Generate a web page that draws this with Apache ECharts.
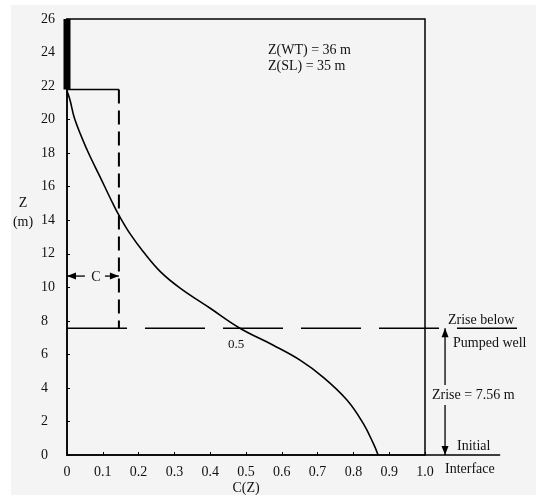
<!DOCTYPE html>
<html>
<head>
<meta charset="utf-8">
<script src="https://cdn.jsdelivr.net/npm/echarts@6/dist/echarts.min.js"></script>
<style>
  html, body { margin: 0; padding: 0; background: #fff; }
  #chart { width: 536px; height: 495px; }
</style>
</head>
<body>
<div id="chart"></div>
<script>
// concentration profile C(Z)
const cValues = [0, 0.008, 0.022, 0.056, 0.092, 0.128, 0.145, 0.176, 0.212, 0.26, 0.316, 0.40, 0.483, 0.575, 0.651, 0.715, 0.782, 0.827, 0.855, 0.869];
const zValues = [21.7, 21.2, 20.0, 18.2, 16.6, 15.0, 14.3, 13.2, 12.15, 10.95, 9.95, 8.75, 7.56, 6.56, 5.66, 4.65, 3.28, 1.9, 0.72, 0];

const zRise = 7.56;       // rise of the interface below the pumped well
const zTop = 21.8;        // top of the profile
const cAvg = 0.145;       // average concentration C (dashed box)
const cArrowZ = 10.67;    // height of the "C" dimension arrow
const cRiseArrow = 1.056; // where the Zrise arrow stands, right of the frame
const cDashEnd = 1.265;   // end of the dashed Zrise line
const cAxisEnd = 1.21;    // end of the extended bottom axis

const font = "Liberation Serif";

const chart = echarts.init(document.getElementById("chart"));

const seg = (pts, style, extra) => Object.assign({
  type: "line",
  data: pts,
  symbol: "none",
  silent: true,
  lineStyle: Object.assign({ color: "#000", width: 1.5 }, style),
}, extra || {});

const txt = (x, y, text, extra) => ({
  type: "text", x, y,
  style: Object.assign({ text, font: "14px " + font, fill: "#111", verticalAlign: "middle" }, extra || {}),
});

const option = {
  backgroundColor: "#fff",
  animation: false,
  grid: {
    left: 67, top: 19, width: 358, height: 436,
    outerBoundsMode: "none",
    show: true, borderColor: "#000", borderWidth: 1.5, backgroundColor: "transparent",
  },
  xAxis: {
    type: "value",
    min: 0, max: 1, interval: 0.1,
    name: "C(Z)",
    nameLocation: "middle",
    nameGap: 26,
    nameMoveOverlap: false,
    nameTextStyle: { fontFamily: font, fontSize: 14, color: "#111" },
    axisLine: { show: true, lineStyle: { color: "#000", width: 1.5 } },
    axisTick: { show: true, inside: true, length: 3, lineStyle: { color: "#000" } },
    splitLine: { show: false },
    axisLabel: {
      fontFamily: font, fontSize: 14, color: "#111", margin: 10,
      formatter: (v) => (v === 0 ? "0" : v.toFixed(1)),
    },
  },
  yAxis: {
    type: "value",
    min: 0, max: 26, interval: 2,
    axisLine: { show: true, lineStyle: { color: "#000", width: 1.5 } },
    axisTick: { show: true, inside: true, length: 3, lineStyle: { color: "#000" } },
    splitLine: { show: false },
    axisLabel: { fontFamily: font, fontSize: 14, color: "#111", align: "left", margin: 26 },
  },
  graphic: [
    { type: "rect", z: -10, shape: { x: 11, y: 5, width: 525, height: 490 }, style: { fill: "#f4f4f4" } },
    txt(23, 203, "Z", { align: "center" }),
    txt(23, 222, "(m)", { align: "center" }),
    txt(268, 50, "Z(WT) = 36 m"),
    txt(268, 66, "Z(SL) = 35 m"),
    txt(236, 345, "0.5", { align: "center", font: "13px " + font }),
    txt(96, 277, "C", { align: "center" }),
    txt(448, 320, "Zrise below"),
    txt(453, 343, "Pumped well"),
    txt(457, 446, "Initial"),
    txt(445, 469, "Interface"),
  ],
  series: [
    seg(cValues.map((c, i) => [c, zValues[i]]), { width: 1.6 }, { smooth: 0.4 }),
    // thick bar along the axis above the profile
    seg([[0, zTop], [0, 26]], { width: 7 }),
    // average concentration box
    seg([[0, zTop], [cAvg, zTop]], { width: 1.5 }),
    seg([[cAvg, zTop], [cAvg, zRise]], { width: 2, type: [14, 7] }),
  ],
};

chart.setOption(option);

// pieces that reach past the right edge of the frame, placed through the axes
const px = (c, z) => chart.convertToPixel({ gridIndex: 0 }, [c, z]);

const head = (tip, dx, dy) => {
  // small filled arrow head pointing along (dx, dy)
  const L = 9, W = 3.5;
  const bx = tip[0] - dx * L, by = tip[1] - dy * L;
  return {
    type: "polygon", z: 50,
    shape: { points: [tip, [bx - dy * W, by + dx * W], [bx + dy * W, by - dx * W]] },
    style: { fill: "#000" },
  };
};

const line = (a, b, style) => ({
  type: "line", z: 40,
  shape: { x1: a[0], y1: a[1], x2: b[0], y2: b[1] },
  style: Object.assign({ stroke: "#000", lineWidth: 1.5 }, style),
});

const riseTop = px(cRiseArrow, zRise);
const riseBot = px(cRiseArrow, 0);
const cLeft = px(0, cArrowZ);
const cRight = px(cAvg, cArrowZ);
const cMidL = px(0.05, cArrowZ);
const cMidR = px(0.106, cArrowZ);

const extra = [
  line(px(0, zRise), px(cDashEnd, zRise), { lineDash: [60, 18] }),
  line(px(1, 0), px(cAxisEnd, 0)),
  line(riseTop, riseBot, { lineWidth: 1.3 }),
  head(riseTop, 0, -1),
  head(riseBot, 0, 1),
  line(cMidL, cLeft, { lineWidth: 1.3 }),
  head(cLeft, -1, 0),
  line(cMidR, cRight, { lineWidth: 1.3 }),
  head(cRight, 1, 0),
  Object.assign(txt(432, 395, "Zrise = 7.56 m", { backgroundColor: "#f4f4f4", padding: [3, 0] }), { z: 100 }),
];

chart.setOption({ graphic: option.graphic.concat(extra) });
</script>
</body>
</html>
